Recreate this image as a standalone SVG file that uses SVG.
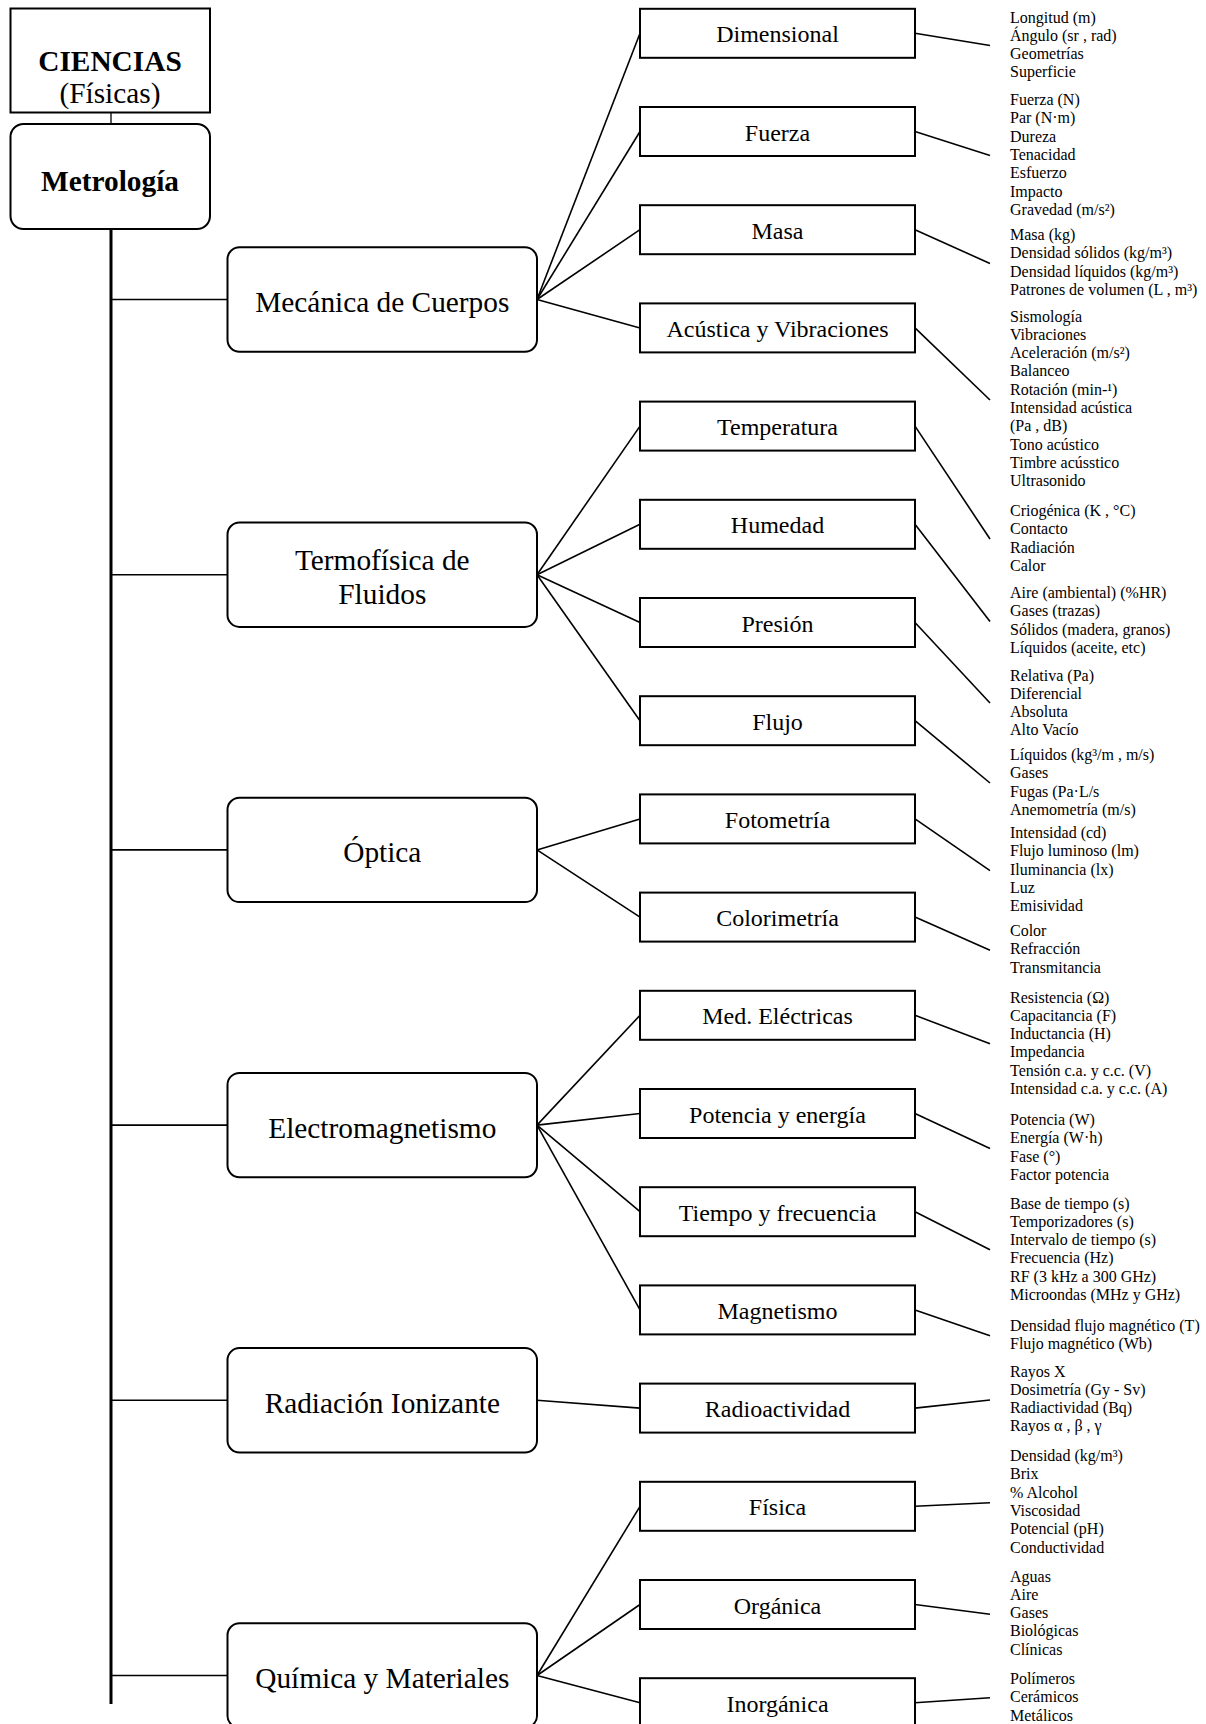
<svg xmlns="http://www.w3.org/2000/svg" width="1206" height="1724" viewBox="0 0 1206 1724">
<style>
  text { font-family: "Liberation Serif", "Times New Roman", serif; fill: #000; }
  .top { font-size: 29.33px; text-anchor: middle; }
  .b { font-weight: bold; }
  .l1 { font-size: 29.33px; text-anchor: middle; }
  .l2 { font-size: 24px; text-anchor: middle; }
  .leaf { font-size: 16px; }
  .box { fill: #fff; stroke: #000; stroke-width: 2; }
  .rbox { fill: #fff; stroke: #000; stroke-width: 2; }
  .c { stroke: #000; stroke-width: 1.6; fill: none; }
  .trunk { stroke: #000; stroke-width: 3; fill: none; }
  .thin { stroke: #000; stroke-width: 1.3; fill: none; }
</style>
<rect width="1206" height="1724" fill="#fff"/>

<g id="connectors">
  <line class="thin" x1="111" y1="113" x2="111" y2="124"/>
  <line class="trunk" x1="111" y1="229" x2="111" y2="1704"/>
  <line class="c" x1="111" y1="299.5" x2="227.5" y2="299.5"/>
  <line class="c" x1="111" y1="574.7" x2="227.5" y2="574.7"/>
  <line class="c" x1="111" y1="849.9" x2="227.5" y2="849.9"/>
  <line class="c" x1="111" y1="1125.1" x2="227.5" y2="1125.1"/>
  <line class="c" x1="111" y1="1400.3" x2="227.5" y2="1400.3"/>
  <line class="c" x1="111" y1="1675.5" x2="227.5" y2="1675.5"/>
  <!-- level1 to level2 -->
  <line class="c" x1="537" y1="299.5" x2="640" y2="33.3"/>
  <line class="c" x1="537" y1="299.5" x2="640" y2="131.5"/>
  <line class="c" x1="537" y1="299.5" x2="640" y2="229.7"/>
  <line class="c" x1="537" y1="299.5" x2="640" y2="327.9"/>
  <line class="c" x1="537" y1="574.7" x2="640" y2="426.1"/>
  <line class="c" x1="537" y1="574.7" x2="640" y2="524.3"/>
  <line class="c" x1="537" y1="574.7" x2="640" y2="622.5"/>
  <line class="c" x1="537" y1="574.7" x2="640" y2="720.7"/>
  <line class="c" x1="537" y1="849.9" x2="640" y2="818.9"/>
  <line class="c" x1="537" y1="849.9" x2="640" y2="917.1"/>
  <line class="c" x1="537" y1="1125.1" x2="640" y2="1015.3"/>
  <line class="c" x1="537" y1="1125.1" x2="640" y2="1113.5"/>
  <line class="c" x1="537" y1="1125.1" x2="640" y2="1211.7"/>
  <line class="c" x1="537" y1="1125.1" x2="640" y2="1309.9"/>
  <line class="c" x1="537" y1="1400.3" x2="640" y2="1408.1"/>
  <line class="c" x1="537" y1="1675.5" x2="640" y2="1506.3"/>
  <line class="c" x1="537" y1="1675.5" x2="640" y2="1604.5"/>
  <line class="c" x1="537" y1="1675.5" x2="640" y2="1702.7"/>
  <!-- level2 to leaves -->
  <line class="c" x1="915" y1="33.3" x2="990" y2="45.5"/>
  <line class="c" x1="915" y1="131.5" x2="990" y2="155.5"/>
  <line class="c" x1="915" y1="229.7" x2="990" y2="263.5"/>
  <line class="c" x1="915" y1="327.9" x2="990" y2="400"/>
  <line class="c" x1="915" y1="426.1" x2="990" y2="539"/>
  <line class="c" x1="915" y1="524.3" x2="990" y2="621.5"/>
  <line class="c" x1="915" y1="622.5" x2="990" y2="703"/>
  <line class="c" x1="915" y1="720.7" x2="990" y2="783"/>
  <line class="c" x1="915" y1="818.9" x2="990" y2="870.7"/>
  <line class="c" x1="915" y1="917.1" x2="990" y2="950.3"/>
  <line class="c" x1="915" y1="1015.3" x2="990" y2="1043.8"/>
  <line class="c" x1="915" y1="1113.5" x2="990" y2="1148.5"/>
  <line class="c" x1="915" y1="1211.7" x2="990" y2="1249.8"/>
  <line class="c" x1="915" y1="1309.9" x2="990" y2="1335.7"/>
  <line class="c" x1="915" y1="1408.1" x2="990" y2="1400"/>
  <line class="c" x1="915" y1="1506.3" x2="990" y2="1502.8"/>
  <line class="c" x1="915" y1="1604.5" x2="990" y2="1614.2"/>
  <line class="c" x1="915" y1="1702.7" x2="990" y2="1697.8"/>
</g>

<g id="ciencias">
  <rect class="box" x="10.5" y="8.5" width="199.5" height="104"/>
  <text class="top b" x="110" y="70.5">CIENCIAS</text>
  <text class="top" x="110" y="103">(Físicas)</text>
</g>
<g id="metrologia">
  <rect class="rbox" x="10.5" y="124" width="199.5" height="105" rx="13"/>
  <text class="top b" x="110" y="191">Metrología</text>
</g>

<g id="mecanica"><rect class="rbox" x="227.5" y="247.3" width="309.5" height="104.4" rx="12"/><text class="l1" x="382.3" y="312">Mecánica de Cuerpos</text></g>
<g id="termofisica"><rect class="rbox" x="227.5" y="522.5" width="309.5" height="104.4" rx="12"/><text class="l1" x="382.3" y="569.5">Termofísica de</text><text class="l1" x="382.3" y="603.5">Fluidos</text></g>
<g id="optica"><rect class="rbox" x="227.5" y="797.7" width="309.5" height="104.4" rx="12"/><text class="l1" x="382.3" y="862.4">Óptica</text></g>
<g id="electromagnetismo"><rect class="rbox" x="227.5" y="1072.9" width="309.5" height="104.4" rx="12"/><text class="l1" x="382.3" y="1137.6">Electromagnetismo</text></g>
<g id="radiacion"><rect class="rbox" x="227.5" y="1348.1" width="309.5" height="104.4" rx="12"/><text class="l1" x="382.3" y="1412.8">Radiación Ionizante</text></g>
<g id="quimica"><rect class="rbox" x="227.5" y="1623.3" width="309.5" height="104.4" rx="12"/><text class="l1" x="382.3" y="1688">Química y Materiales</text></g>

<g id="dimensional"><rect class="box" x="640" y="8.8" width="275" height="49"/><text class="l2" x="777.5" y="42.3">Dimensional</text></g>
<g id="fuerza"><rect class="box" x="640" y="107" width="275" height="49"/><text class="l2" x="777.5" y="140.5">Fuerza</text></g>
<g id="masa"><rect class="box" x="640" y="205.2" width="275" height="49"/><text class="l2" x="777.5" y="238.7">Masa</text></g>
<g id="acustica"><rect class="box" x="640" y="303.4" width="275" height="49"/><text class="l2" x="777.5" y="336.9">Acústica y Vibraciones</text></g>
<g id="temperatura"><rect class="box" x="640" y="401.6" width="275" height="49"/><text class="l2" x="777.5" y="435.1">Temperatura</text></g>
<g id="humedad"><rect class="box" x="640" y="499.8" width="275" height="49"/><text class="l2" x="777.5" y="533.3">Humedad</text></g>
<g id="presion"><rect class="box" x="640" y="598" width="275" height="49"/><text class="l2" x="777.5" y="631.5">Presión</text></g>
<g id="flujo"><rect class="box" x="640" y="696.2" width="275" height="49"/><text class="l2" x="777.5" y="729.7">Flujo</text></g>
<g id="fotometria"><rect class="box" x="640" y="794.4" width="275" height="49"/><text class="l2" x="777.5" y="827.9">Fotometría</text></g>
<g id="colorimetria"><rect class="box" x="640" y="892.6" width="275" height="49"/><text class="l2" x="777.5" y="926.1">Colorimetría</text></g>
<g id="electricas"><rect class="box" x="640" y="990.8" width="275" height="49"/><text class="l2" x="777.5" y="1024.3">Med. Eléctricas</text></g>
<g id="potencia"><rect class="box" x="640" y="1089" width="275" height="49"/><text class="l2" x="777.5" y="1122.5">Potencia y energía</text></g>
<g id="tiempo"><rect class="box" x="640" y="1187.2" width="275" height="49"/><text class="l2" x="777.5" y="1220.7">Tiempo y frecuencia</text></g>
<g id="magnetismo"><rect class="box" x="640" y="1285.4" width="275" height="49"/><text class="l2" x="777.5" y="1318.9">Magnetismo</text></g>
<g id="radioactividad"><rect class="box" x="640" y="1383.6" width="275" height="49"/><text class="l2" x="777.5" y="1417.1">Radioactividad</text></g>
<g id="fisica"><rect class="box" x="640" y="1481.8" width="275" height="49"/><text class="l2" x="777.5" y="1515.3">Física</text></g>
<g id="organica"><rect class="box" x="640" y="1580" width="275" height="49"/><text class="l2" x="777.5" y="1613.5">Orgánica</text></g>
<g id="inorganica"><rect class="box" x="640" y="1678.2" width="275" height="49"/><text class="l2" x="777.5" y="1711.7">Inorgánica</text></g>

<g id="leaf-dimensional"><text class="leaf" x="1010" y="22.5"><tspan x="1010">Longitud (m)</tspan><tspan x="1010" dy="18.33">Ángulo (sr , rad)</tspan><tspan x="1010" dy="18.33">Geometrías</tspan><tspan x="1010" dy="18.33">Superficie</tspan></text></g>
<g id="leaf-fuerza"><text class="leaf" x="1010" y="105"><tspan x="1010">Fuerza (N)</tspan><tspan x="1010" dy="18.33">Par (N·m)</tspan><tspan x="1010" dy="18.33">Dureza</tspan><tspan x="1010" dy="18.33">Tenacidad</tspan><tspan x="1010" dy="18.33">Esfuerzo</tspan><tspan x="1010" dy="18.33">Impacto</tspan><tspan x="1010" dy="18.33">Gravedad (m/s²)</tspan></text></g>
<g id="leaf-masa"><text class="leaf" x="1010" y="240"><tspan x="1010">Masa (kg)</tspan><tspan x="1010" dy="18.33">Densidad sólidos (kg/m³)</tspan><tspan x="1010" dy="18.33">Densidad líquidos (kg/m³)</tspan><tspan x="1010" dy="18.33">Patrones de volumen (L , m³)</tspan></text></g>
<g id="leaf-acustica"><text class="leaf" x="1010" y="321.5"><tspan x="1010">Sismología</tspan><tspan x="1010" dy="18.33">Vibraciones</tspan><tspan x="1010" dy="18.33">Aceleración (m/s²)</tspan><tspan x="1010" dy="18.33">Balanceo</tspan><tspan x="1010" dy="18.33">Rotación (min-¹)</tspan><tspan x="1010" dy="18.33">Intensidad acústica</tspan><tspan x="1010" dy="18.33">(Pa , dB)</tspan><tspan x="1010" dy="18.33">Tono acústico</tspan><tspan x="1010" dy="18.33">Timbre acússtico</tspan><tspan x="1010" dy="18.33">Ultrasonido</tspan></text></g>
<g id="leaf-temperatura"><text class="leaf" x="1010" y="516"><tspan x="1010">Criogénica (K , °C)</tspan><tspan x="1010" dy="18.33">Contacto</tspan><tspan x="1010" dy="18.33">Radiación</tspan><tspan x="1010" dy="18.33">Calor</tspan></text></g>
<g id="leaf-humedad"><text class="leaf" x="1010" y="598"><tspan x="1010">Aire (ambiental) (%HR)</tspan><tspan x="1010" dy="18.33">Gases (trazas)</tspan><tspan x="1010" dy="18.33">Sólidos (madera, granos)</tspan><tspan x="1010" dy="18.33">Líquidos (aceite, etc)</tspan></text></g>
<g id="leaf-presion"><text class="leaf" x="1010" y="680.5"><tspan x="1010">Relativa (Pa)</tspan><tspan x="1010" dy="18.33">Diferencial</tspan><tspan x="1010" dy="18.33">Absoluta</tspan><tspan x="1010" dy="18.33">Alto Vacío</tspan></text></g>
<g id="leaf-flujo"><text class="leaf" x="1010" y="760"><tspan x="1010">Líquidos (kg³/m , m/s)</tspan><tspan x="1010" dy="18.33">Gases</tspan><tspan x="1010" dy="18.33">Fugas (Pa·L/s</tspan><tspan x="1010" dy="18.33">Anemometría (m/s)</tspan></text></g>
<g id="leaf-fotometria"><text class="leaf" x="1010" y="838"><tspan x="1010">Intensidad (cd)</tspan><tspan x="1010" dy="18.33">Flujo luminoso (lm)</tspan><tspan x="1010" dy="18.33">Iluminancia (lx)</tspan><tspan x="1010" dy="18.33">Luz</tspan><tspan x="1010" dy="18.33">Emisividad</tspan></text></g>
<g id="leaf-colorimetria"><text class="leaf" x="1010" y="936"><tspan x="1010">Color</tspan><tspan x="1010" dy="18.33">Refracción</tspan><tspan x="1010" dy="18.33">Transmitancia</tspan></text></g>
<g id="leaf-electricas"><text class="leaf" x="1010" y="1002.5"><tspan x="1010">Resistencia (Ω)</tspan><tspan x="1010" dy="18.33">Capacitancia (F)</tspan><tspan x="1010" dy="18.33">Inductancia (H)</tspan><tspan x="1010" dy="18.33">Impedancia</tspan><tspan x="1010" dy="18.33">Tensión c.a. y c.c. (V)</tspan><tspan x="1010" dy="18.33">Intensidad c.a. y c.c. (A)</tspan></text></g>
<g id="leaf-potencia"><text class="leaf" x="1010" y="1125"><tspan x="1010">Potencia (W)</tspan><tspan x="1010" dy="18.33">Energía (W·h)</tspan><tspan x="1010" dy="18.33">Fase (°)</tspan><tspan x="1010" dy="18.33">Factor potencia</tspan></text></g>
<g id="leaf-tiempo"><text class="leaf" x="1010" y="1208.5"><tspan x="1010">Base de tiempo (s)</tspan><tspan x="1010" dy="18.33">Temporizadores (s)</tspan><tspan x="1010" dy="18.33">Intervalo de tiempo (s)</tspan><tspan x="1010" dy="18.33">Frecuencia (Hz)</tspan><tspan x="1010" dy="18.33">RF (3 kHz a 300 GHz)</tspan><tspan x="1010" dy="18.33">Microondas (MHz y GHz)</tspan></text></g>
<g id="leaf-magnetismo"><text class="leaf" x="1010" y="1331"><tspan x="1010">Densidad flujo magnético (T)</tspan><tspan x="1010" dy="18.33">Flujo magnético (Wb)</tspan></text></g>
<g id="leaf-radioactividad"><text class="leaf" x="1010" y="1376.5"><tspan x="1010">Rayos X</tspan><tspan x="1010" dy="18.33">Dosimetría (Gy - Sv)</tspan><tspan x="1010" dy="18.33">Radiactividad (Bq)</tspan><tspan x="1010" dy="18.33">Rayos α , β , γ</tspan></text></g>
<g id="leaf-fisica"><text class="leaf" x="1010" y="1461"><tspan x="1010">Densidad (kg/m³)</tspan><tspan x="1010" dy="18.33">Brix</tspan><tspan x="1010" dy="18.33">% Alcohol</tspan><tspan x="1010" dy="18.33">Viscosidad</tspan><tspan x="1010" dy="18.33">Potencial (pH)</tspan><tspan x="1010" dy="18.33">Conductividad</tspan></text></g>
<g id="leaf-organica"><text class="leaf" x="1010" y="1581.5"><tspan x="1010">Aguas</tspan><tspan x="1010" dy="18.33">Aire</tspan><tspan x="1010" dy="18.33">Gases</tspan><tspan x="1010" dy="18.33">Biológicas</tspan><tspan x="1010" dy="18.33">Clínicas</tspan></text></g>
<g id="leaf-inorganica"><text class="leaf" x="1010" y="1684"><tspan x="1010">Polímeros</tspan><tspan x="1010" dy="18.33">Cerámicos</tspan><tspan x="1010" dy="18.33">Metálicos</tspan></text></g>
</svg>
